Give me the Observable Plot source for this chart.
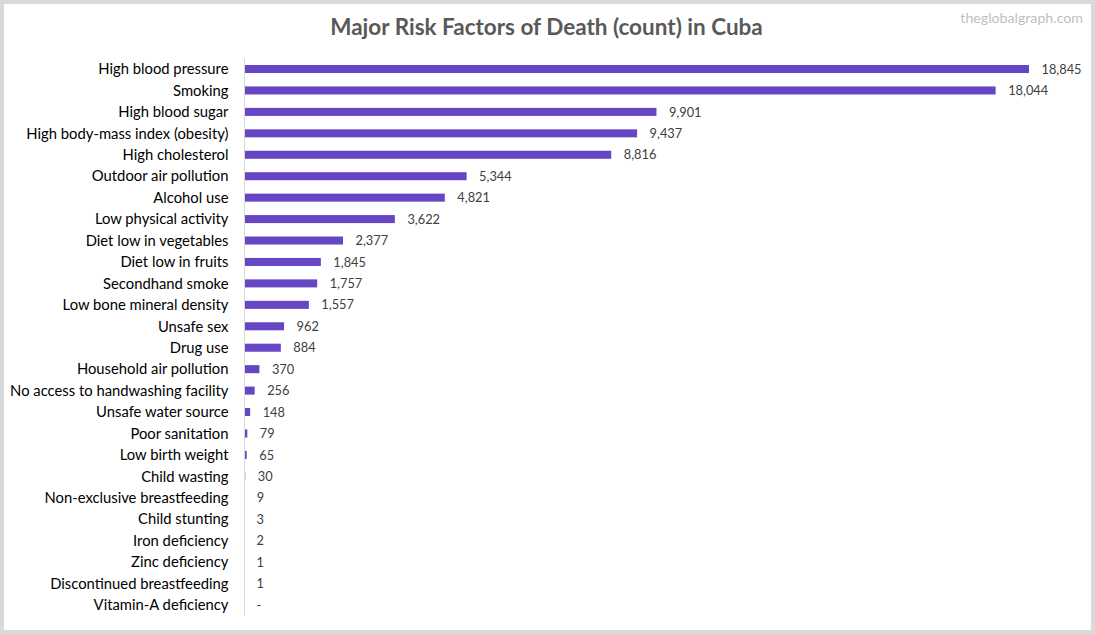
<!DOCTYPE html>
<html>
<head>
<meta charset="utf-8">
<script src="https://cdn.jsdelivr.net/npm/d3@7"></script>
<script src="https://cdn.jsdelivr.net/npm/@observablehq/plot@0.6"></script>
<style>
  html, body { margin: 0; padding: 0; background: #fff; }
  #frame { position: relative; width: 1095px; height: 634px; box-sizing: border-box;
           border: 4px solid #d9d9d9; background: #fff; overflow: hidden; font-family: Lato, sans-serif; }
  #title { position: absolute; left: 0; top: 9px; width: 1085px; text-align: center;
           font-size: 22.5px; font-weight: bold; color: #595959; }
  #mark { position: absolute; right: 8px; top: 5px; font-size: 14.2px; color: #bfbfbf; }
  #chart { position: absolute; left: -4px; top: -4px; width: 1095px; height: 634px; }
  #chart svg { max-width: none !important; display: block; }
</style>
</head>
<body>
<div id="frame">
  <div id="chart"></div>
  <div id="title">Major Risk Factors of Death (count) in Cuba</div>
  <div id="mark">theglobalgraph.com</div>
</div>
<script>
const categories = [
  "High blood pressure", "Smoking", "High blood sugar", "High body-mass index (obesity)",
  "High cholesterol", "Outdoor air pollution", "Alcohol use", "Low physical activity",
  "Diet low in vegetables", "Diet low in fruits", "Secondhand smoke", "Low bone mineral density",
  "Unsafe sex", "Drug use", "Household air pollution", "No access to handwashing facility",
  "Unsafe water source", "Poor sanitation", "Low birth weight", "Child wasting",
  "Non-exclusive breastfeeding", "Child stunting", "Iron deficiency", "Zinc deficiency",
  "Discontinued breastfeeding", "Vitamin-A deficiency"
];
const deaths = [18845, 18044, 9901, 9437, 8816, 5344, 4821, 3622, 2377, 1845, 1757, 1557,
  962, 884, 370, 256, 148, 79, 65, 30, 9, 3, 2, 1, 1, 0];

const data = categories.map((c, i) => ({ factor: c, value: deaths[i] }));
const fmt = d3.format(",");

const chart = Plot.plot({
  width: 1095,
  height: 634,
  marginLeft: 244,
  marginRight: 66,
  marginTop: 58.3,
  marginBottom: 18.3,
  style: { fontFamily: "Lato, sans-serif", background: "transparent", maxWidth: "none" },
  x: { domain: [0, 18845], axis: null, round: false },
  y: { domain: categories, padding: 0, axis: null, round: false, label: null },
  marks: [
    Plot.barX(data, { y: "factor", x: "value", fill: "#6746c6", insetTop: 6.7, insetBottom: 6.7 }),
    Plot.ruleX([0], { stroke: "#d9d9d9", strokeWidth: 1 }),
    Plot.axisY({ tickSize: 0, tickPadding: 16, fontSize: 14.8, color: "#000", label: null }),
    Plot.text(data, {
      y: "factor", x: "value",
      text: d => d.value === 0 ? "-" : fmt(d.value),
      dx: 12, textAnchor: "start", fontSize: 12.8, fill: "#404040"
    })
  ]
});
document.getElementById("chart").appendChild(chart);
</script>
</body>
</html>
